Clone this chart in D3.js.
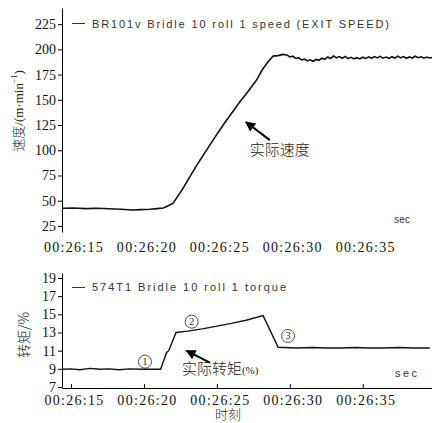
<!DOCTYPE html>
<html>
<head>
<meta charset="utf-8">
<script src="https://cdn.jsdelivr.net/npm/d3@7"></script>
<style>
body { margin: 0; background: #fff; }
svg { display: block; }
.serif { font-family: "Liberation Serif", "Times New Roman", serif; }
</style>
</head>
<body>
<div id="chart"></div>
<script>
// seconds after 00:26:00, value
var speedData = [
    [14.38, 42.5], [15.2, 42.8], [16.0, 42.2], [16.8, 42.6], [17.6, 42.0], [18.4, 41.6],
    [19.2, 40.8], [19.8, 41.2], [20.4, 41.6], [20.9, 42.2], [21.32, 42.8], [21.6, 44.5],
    [22.0, 47.5], [22.6, 60.5], [23.15, 73.8], [23.7, 87.0], [24.29, 100.2], [24.85, 112.5],
    [25.43, 125.0], [26.0, 136.5], [26.58, 148.0], [27.15, 158.5], [27.72, 169.6],
    [28.1, 179.5], [28.51, 187.7], [28.86, 193.3], [29.2, 193.8], [29.54, 195.0],
    [29.8, 194.5], [30.0, 192.5], [30.2, 193.2], [30.4, 191.0], [30.6, 191.8], [30.8, 189.5],
    [31.0, 190.3], [31.2, 188.5], [31.4, 189.6], [31.6, 188.2], [31.8, 190.0], [32.0, 189.2],
    [32.2, 191.3], [32.4, 190.2], [32.6, 192.5], [32.8, 191.0], [33.0, 193.4], [33.2, 191.6],
    [33.4, 192.8], [33.6, 191.2], [33.8, 193.0], [34.0, 190.8], [34.2, 192.1], [34.4, 190.6],
    [34.6, 191.8], [34.8, 190.5], [35.0, 192.2], [35.2, 191.0], [35.4, 192.6], [35.6, 191.2],
    [35.8, 192.9], [36.0, 191.5], [36.2, 193.1], [36.4, 191.3], [36.6, 192.4], [36.8, 191.1],
    [37.0, 192.7], [37.2, 191.4], [37.4, 193.3], [37.6, 191.6], [37.8, 192.8], [38.0, 191.2],
    [38.2, 192.5], [38.4, 191.4], [38.6, 193.2], [38.8, 191.7], [39.0, 192.6], [39.2, 191.3],
    [39.4, 192.4], [39.6, 191.5], [39.75, 191.8]
];

var torqueData = [
    [14.38, 8.95], [15.0, 9.0], [15.6, 8.9], [16.3, 9.05], [17.0, 8.95], [17.6, 9.0],
    [18.3, 8.9], [19.0, 9.0], [19.8, 8.95], [20.5, 8.95], [21.14, 8.95], [21.4, 10.1],
    [21.55, 10.8], [21.7, 11.0], [22.2, 13.0], [23.0, 13.15], [24.0, 13.4], [25.0, 13.7],
    [26.0, 14.0], [27.0, 14.35], [28.17, 14.85], [29.2, 11.37], [29.6, 11.35], [30.5, 11.3],
    [31.5, 11.35], [32.5, 11.3], [33.5, 11.3], [34.5, 11.35], [35.5, 11.3], [36.5, 11.3],
    [37.5, 11.35], [38.5, 11.3], [39.6, 11.3]
];

var timeTicks = [15, 20, 25, 30, 35];
var speedTicks = [25, 50, 75, 100, 125, 150, 175, 200, 225];
var torqueTicks = [7, 9, 11, 13, 15, 17, 19];

var stageLabels = [
    {n: "1", t: 20.07, v: 9.79},
    {n: "2", t: 23.27, v: 14.19},
    {n: "3", t: 29.88, v: 12.62}
];

var W = 432, H = 423;
var sans = "'Liberation Sans', Arial, sans-serif";
var cjk = "'Noto Sans CJK SC', sans-serif";

var svg = d3.select("#chart").append("svg")
    .attr("width", W)
    .attr("height", H);

var x = d3.scaleLinear().domain([14.38, 39.75]).range([62, 432]);
var ySpeed = d3.scaleLinear().domain([19, 241]).range([232, 8]);
var yTorque = d3.scaleLinear().domain([7, 19.55]).range([387, 273]);

var fmt = function (s) { return "00:26:" + d3.format("02")(s); };

// arrow head
svg.append("defs").append("marker")
    .attr("id", "head")
    .attr("viewBox", "0 0 10 10")
    .attr("refX", 9).attr("refY", 5)
    .attr("markerWidth", 13).attr("markerHeight", 10)
    .attr("markerUnits", "userSpaceOnUse")
    .attr("orient", "auto")
    .append("path")
    .attr("d", "M0,0 L10,5 L0,10 Z")
    .attr("fill", "#000");

function styleAxis(g) {
    g.attr("font-family", null).attr("font-size", null);
    g.selectAll("path, line").attr("stroke", "#000").attr("stroke-width", 1);
    g.selectAll("text")
        .attr("class", "serif")
        .style("font-size", "14px")
        .attr("fill", "#111");
}

// ---------- top: speed ----------
var speedPanel = svg.append("g");

speedPanel.append("g")
    .attr("transform", "translate(62,0)")
    .call(d3.axisLeft(ySpeed).tickValues(speedTicks).tickSize(4).tickSizeOuter(0).tickPadding(2))
    .call(styleAxis);

speedPanel.selectAll(".tlabel")
    .data(timeTicks)
    .enter().append("text")
    .attr("class", "serif")
    .attr("x", function (d) { return x(d) + 3; })
    .attr("y", 252)
    .attr("text-anchor", "middle")
    .style("font-size", "14px")
    .attr("letter-spacing", "1.3px")
    .attr("fill", "#111")
    .text(fmt);

speedPanel.append("path")
    .datum(speedData)
    .attr("fill", "none")
    .attr("stroke", "#111")
    .attr("stroke-width", 1.6)
    .attr("d", d3.line().x(function (d) { return x(d[0]); }).y(function (d) { return ySpeed(d[1]); }));

speedPanel.append("line")
    .attr("x1", 72).attr("x2", 85).attr("y1", 23.5).attr("y2", 23.5)
    .attr("stroke", "#333").attr("stroke-width", 1);
speedPanel.append("text")
    .attr("x", 92).attr("y", 28)
    .style("font-family", sans).style("font-size", "11px").attr("fill", "#333")
    .attr("textLength", 297).attr("lengthAdjust", "spacing")
    .text("BR101v Bridle 10 roll 1 speed (EXIT SPEED)");

speedPanel.append("text")
    .attr("x", 394).attr("y", 223)
    .style("font-family", sans).style("font-size", "10px").attr("fill", "#333")
    .attr("textLength", 16).attr("lengthAdjust", "spacing")
    .text("sec");

speedPanel.append("line")
    .attr("x1", x(28.63)).attr("y1", ySpeed(110.1))
    .attr("x2", x(26.99)).attr("y2", ySpeed(128))
    .attr("stroke", "#000").attr("stroke-width", 2)
    .attr("marker-end", "url(#head)");
speedPanel.append("text")
    .attr("x", x(27.26)).attr("y", ySpeed(95.5))
    .style("font-family", cjk).style("font-size", "15px").style("font-weight", 300).attr("fill", "#222")
    .text("实际速度");

speedPanel.append("text")
    .attr("class", "serif")
    .attr("transform", "translate(23,111) rotate(-90)")
    .attr("text-anchor", "middle")
    .style("font-size", "13px").attr("fill", "#222")
    .call(function (t) {
        t.append("tspan").style("font-family", cjk).style("font-weight", 300).text("速度");
        t.append("tspan").text("/(m·min");
        t.append("tspan").style("font-size", "8px").attr("dy", -6).text("−1");
        t.append("tspan").attr("dy", 6).text(")");
    });

// ---------- bottom: torque ----------
var torquePanel = svg.append("g");

torquePanel.append("g")
    .attr("transform", "translate(62,0)")
    .call(d3.axisLeft(yTorque).tickValues(torqueTicks).tickSize(4).tickSizeOuter(0).tickPadding(2))
    .call(styleAxis);

torquePanel.append("g")
    .attr("transform", "translate(0,388)")
    .call(d3.axisBottom(x).tickValues(timeTicks).tickSize(-4).tickSizeOuter(0).tickPadding(7).tickFormat(fmt))
    .call(styleAxis)
    .call(function (g) {
        g.selectAll("text").attr("dx", 3).attr("letter-spacing", "1.3px");
    });

torquePanel.append("path")
    .datum(torqueData)
    .attr("fill", "none")
    .attr("stroke", "#111")
    .attr("stroke-width", 1.4)
    .attr("d", d3.line().x(function (d) { return x(d[0]); }).y(function (d) { return yTorque(d[1]); }));

torquePanel.append("line")
    .attr("x1", 72).attr("x2", 85).attr("y1", 287.5).attr("y2", 287.5)
    .attr("stroke", "#333").attr("stroke-width", 1);
torquePanel.append("text")
    .attr("x", 92).attr("y", 291)
    .style("font-family", sans).style("font-size", "11px").attr("fill", "#333")
    .attr("textLength", 194).attr("lengthAdjust", "spacing")
    .text("574T1  Bridle 10 roll 1 torque");

torquePanel.append("text")
    .attr("x", 395).attr("y", 377)
    .style("font-family", sans).style("font-size", "11px").attr("fill", "#333")
    .attr("textLength", 22).attr("lengthAdjust", "spacing")
    .text("sec");

var stage = torquePanel.selectAll(".stage")
    .data(stageLabels)
    .enter().append("g")
    .attr("transform", function (d) { return "translate(" + x(d.t) + "," + yTorque(d.v) + ")"; });
stage.append("circle").attr("r", 6.5).attr("fill", "none").attr("stroke", "#222").attr("stroke-width", 0.8);
stage.append("text")
    .attr("class", "serif")
    .attr("y", 3.5).attr("text-anchor", "middle")
    .style("font-size", "10px").attr("fill", "#222")
    .text(function (d) { return d.n; });

torquePanel.append("line")
    .attr("x1", x(24.52)).attr("y1", yTorque(9.68))
    .attr("x2", x(22.91)).attr("y2", yTorque(11.0))
    .attr("stroke", "#000").attr("stroke-width", 2)
    .attr("marker-end", "url(#head)");
torquePanel.append("text")
    .attr("x", x(22.6)).attr("y", yTorque(8.4))
    .style("font-family", cjk).style("font-size", "15px").style("font-weight", 300).attr("fill", "#222")
    .call(function (t) {
        t.append("tspan").text("实际转矩");
        t.append("tspan").attr("class", "serif").style("font-size", "11px").text("(%)");
    });

torquePanel.append("text")
    .attr("transform", "translate(29,335) rotate(-90)")
    .attr("text-anchor", "middle")
    .style("font-family", cjk).style("font-size", "14px").style("font-weight", 300).attr("fill", "#222")
    .text("转矩/%");

torquePanel.append("text")
    .attr("x", 228).attr("y", 419)
    .attr("text-anchor", "middle")
    .style("font-family", cjk).style("font-size", "13px").style("font-weight", 300).attr("fill", "#222")
    .text("时刻");
</script>
</body>
</html>
